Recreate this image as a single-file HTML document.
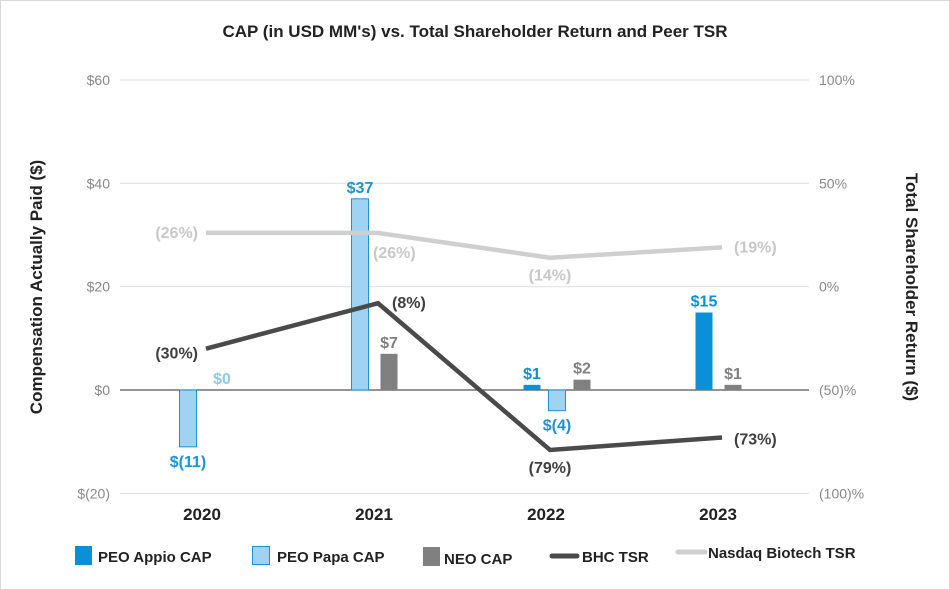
<!DOCTYPE html>
<html><head><meta charset="utf-8"><style>
html,body{margin:0;padding:0;background:#fff}
svg{display:block;font-family:"Liberation Sans",sans-serif}
</style></head><body>
<svg id="chart" width="950" height="590" viewBox="0 0 950 590">
<rect x="0.5" y="0.5" width="949" height="589" fill="#fff" stroke="#d9d9d9"/>
<text x="475" y="37" text-anchor="middle" font-size="17" font-weight="bold" fill="#222">CAP (in USD MM's) vs. Total Shareholder Return and Peer TSR</text>
<text transform="translate(42,287) rotate(-90)" text-anchor="middle" font-size="17" font-weight="bold" fill="#222">Compensation Actually Paid ($)</text>
<text transform="translate(906,287) rotate(90)" text-anchor="middle" font-size="17" font-weight="bold" fill="#222">Total Shareholder Return ($)</text>
<g id="grid"></g><g id="bars"></g><g id="lines"></g><g id="labels"></g>
<g font-size="15" font-weight="bold" fill="#222">
<rect x="75" y="546" width="17" height="19" fill="#0a90d6"/>
<text x="98" y="562">PEO Appio CAP</text>
<rect x="252.5" y="546.5" width="17" height="18" fill="#9fd3f1" stroke="#1a94d4"/>
<text x="277" y="562">PEO Papa CAP</text>
<rect x="423" y="547" width="17" height="19" fill="#808080"/>
<text x="444" y="564">NEO CAP</text>
<line x1="552" y1="556" x2="577" y2="556" stroke="#4a4a4a" stroke-width="5" stroke-linecap="round"/>
<text x="582" y="562">BHC TSR</text>
<line x1="678" y1="552" x2="705" y2="552" stroke="#cfcfcf" stroke-width="5" stroke-linecap="round"/>
<text x="708" y="558">Nasdaq Biotech TSR</text>
</g>
</svg>
<script>
const categories = ["2020","2021","2022","2023"];
const peoAppio = [null, null, 1, 15];
const peoPapa = [-11, 37, -4, null];
const neoCap = [0, 7, 2, 1];
const bhcTsr = [-30, -8, -79, -73];
const nasdaqTsr = [26, 26, 14, 19];
const leftTicks = [60, 40, 20, 0, -20];
const leftTickLabels = ["$60","$40","$20","$0","$(20)"];
const rightTickLabels = ["100%","50%","0%","(50)%","(100)%"];
const NS="http://www.w3.org/2000/svg";
const X0=120,X1=808,Y60=80,Y0=390;
const yL=v=>Y0-(v)*(Y0-Y60)/60;
const yR=v=>Y0-(v+50)*(Y0-Y60)/150;
const xC=i=>X0+(X1-X0)/categories.length*(i+0.5);
function mk(tag,attrs,parent,text){const e=document.createElementNS(NS,tag);for(const k in attrs)e.setAttribute(k,attrs[k]);if(text!==undefined)e.textContent=text;document.getElementById(parent).appendChild(e);return e;}
const fmt=v=>v<0?"$("+(-v)+")":"$"+v;
const pct=v=>"("+Math.abs(v)+"%)";
leftTicks.forEach((t,i)=>{
  const y=yL(t);
  const g=mk("line",{x1:X0,x2:X1+1,y1:y,y2:y,stroke:t===0?"#555":"#e3e3e3","stroke-width":t===0?1.2:1.2},"grid");
  
  
  const l=mk("text",{x:110,y:y+5,"text-anchor":"end","font-size":14,fill:"#888"},"grid",leftTickLabels[i]);
  
  
  const r=mk("text",{x:819,y:y+5,"font-size":14,fill:"#888"},"grid",rightTickLabels[i]);
  
  
});
categories.forEach((c,i)=>{
  const t=mk("text",{x:xC(i)-4,y:520,"text-anchor":"middle","font-size":17,"font-weight":"bold",fill:"#222"},"labels",c);
  
  
});
const series=[
 {vals:peoAppio,fill:"#0a90d6",stroke:"none",lab:"#0a90d6",name:"bar-peo-appio"},
 {vals:peoPapa,fill:"#9fd3f1",stroke:"#1a94d4",lab:"#1a94d4",name:"bar-peo-papa"},
 {vals:neoCap,fill:"#808080",stroke:"none",lab:"#808080",name:"bar-neo"}];
categories.forEach((c,i)=>{
  const present=series.filter(s=>s.vals[i]!==null && !(s.name==="bar-neo"&&i===0));
  const sp=present.length===3?25:29;
  present.forEach((s,k)=>{
    const v=s.vals[i];const cx=xC(i)-18+k*sp;const w=17;
    const y1=Math.min(yL(v),Y0),h=Math.abs(yL(v)-Y0);
    const r=mk("rect",{x:cx-w/2,y:y1,width:w,height:Math.max(h,0.5),fill:s.fill,stroke:s.stroke},"bars");
    
    
    const ly=v>=0?yL(v)-6:yL(v)+20;
    const t=mk("text",{x:cx,y:ly,"text-anchor":"middle","font-size":16,"font-weight":"bold",fill:s.lab},"labels",fmt(v));
    
    
  });
});
// 2020 $0 label (NEO zero)
{const t=mk("text",{x:xC(0)+16,y:yL(neoCap[0])-6,"text-anchor":"middle","font-size":16,"font-weight":"bold",fill:"#8fcbee"},"labels",fmt(neoCap[0]));

}
function line(vals,color,name){
  const p=mk("polyline",{points:vals.map((v,i)=>xC(i)+","+yR(v)).join(" "),fill:"none",stroke:color,"stroke-width":4.5,"stroke-linejoin":"miter"},"lines");
  
  
}
line(nasdaqTsr,"#cfcfcf","line-nasdaq-tsr");
line(bhcTsr,"#4a4a4a","line-bhc-tsr");
const nasOff=[[-8,5,"end"],[-5,25,"start"],[0,23,"middle"],[12,5,"start"]];
nasdaqTsr.forEach((v,i)=>{const o=nasOff[i];
  const t=mk("text",{x:xC(i)+o[0],y:yR(v)+o[1],"text-anchor":o[2],"font-size":16,"font-weight":"bold",fill:"#c8c8c8"},"labels",pct(v));
  
  });
const bhcOff=[[-8,10,"end"],[14,5,"start"],[0,23,"middle"],[12,7,"start"]];
bhcTsr.forEach((v,i)=>{const o=bhcOff[i];
  const t=mk("text",{x:xC(i)+o[0],y:yR(v)+o[1],"text-anchor":o[2],"font-size":16,"font-weight":"bold",fill:"#404040"},"labels",pct(v));
  
  });
</script>
</body></html>
